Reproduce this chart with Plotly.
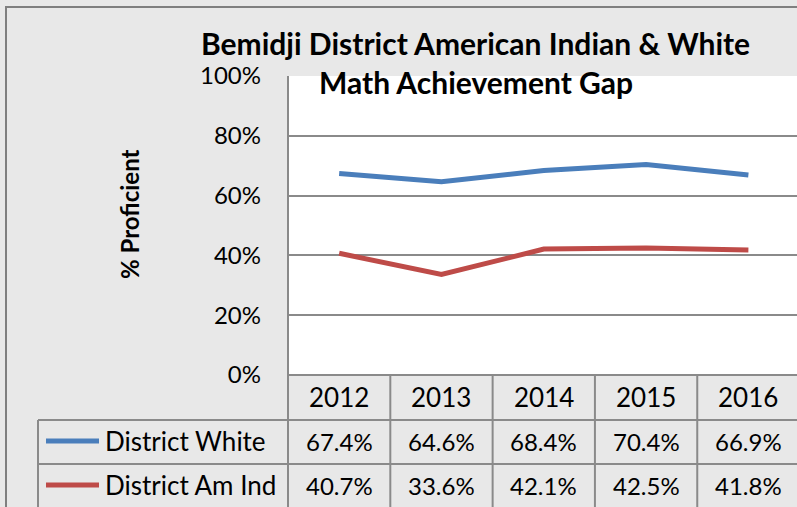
import plotly.graph_objects as go

years = ["2012", "2013", "2014", "2015", "2016"]
white = [67.4, 64.6, 68.4, 70.4, 66.9]
amind = [40.7, 33.6, 42.1, 42.5, 41.8]
series_names = ["District White", "District Am Ind"]
series_colors = ["#4A7EBB", "#BE4B48"]
title_lines = ["Bemidji District American Indian & White", "Math Achievement Gap"]
y_title = "% Proficient"
y_ticks = [0, 20, 40, 60, 80, 100]

W, H = 797, 507
FONT = "Lato"
GRID = "#8a8a8a"

def px(x):
    return x / W

def py(y):
    return 1 - y / H

fig = go.Figure()
for name, vals, col in zip(series_names, [white, amind], series_colors):
    fig.add_trace(go.Scatter(x=list(range(len(years))), y=vals, mode="lines", name=name,
                             line=dict(color=col, width=5), showlegend=False))

shapes = []
shapes.append(dict(type="rect", xref="paper", yref="paper", x0=px(6), x1=px(805), y0=py(515), y1=py(7),
                   line=dict(color="#7f7f7f", width=2), layer="below"))
for i in range(len(years) + 1):
    shapes.append(dict(type="line", xref="x", yref="paper", x0=i - 0.5, x1=i - 0.5, y0=0, y1=py(375),
                       line=dict(color=GRID, width=2)))
shapes.append(dict(type="line", xref="paper", yref="paper", x0=px(288), x1=px(288), y0=0, y1=py(76),
                   line=dict(color=GRID, width=2)))
shapes.append(dict(type="line", xref="paper", yref="paper", x0=px(38), x1=px(38), y0=0, y1=py(420),
                   line=dict(color=GRID, width=2)))
for yy in [420, 464]:
    shapes.append(dict(type="line", xref="paper", yref="paper", x0=px(38), x1=1, y0=py(yy), y1=py(yy),
                       line=dict(color=GRID, width=2)))
shapes.append(dict(type="line", xref="paper", yref="paper", x0=px(288), x1=1, y0=py(375), y1=py(375),
                   line=dict(color=GRID, width=2)))

annotations = []
row_y = [441, 485]
for i, y in enumerate(years):
    annotations.append(dict(x=i, y=py(397), xref="x", yref="paper", text=y, showarrow=False,
                            font=dict(size=26, color="black", family=FONT), xanchor="center", yanchor="middle"))
for r, (vals, name, col) in enumerate(zip([white, amind], series_names, series_colors)):
    for i, v in enumerate(vals):
        annotations.append(dict(x=i, y=py(row_y[r]), xref="x", yref="paper", text=f"{v:.1f}%", showarrow=False,
                                font=dict(size=24, color="black", family=FONT), xanchor="center", yanchor="middle"))
    annotations.append(dict(x=px(103), y=py(row_y[r]), xref="paper", yref="paper", text=name, showarrow=False,
                            font=dict(size=26, color="black", family=FONT), xanchor="left", yanchor="middle"))
    shapes.append(dict(type="line", xref="paper", yref="paper", x0=px(46), x1=px(99), y0=py(row_y[r]), y1=py(row_y[r]),
                       line=dict(color=col, width=5)))

annotations.append(dict(x=px(475), y=py(43), xref="paper", yref="paper", text="<b>" + title_lines[0] + "</b>",
                        showarrow=False, font=dict(size=30, color="black", family=FONT), xanchor="center", yanchor="middle"))
annotations.append(dict(x=px(476), y=py(82), xref="paper", yref="paper", text="<b>" + title_lines[1] + "</b>",
                        showarrow=False, font=dict(size=30, color="black", family=FONT), xanchor="center", yanchor="middle"))
annotations.append(dict(x=px(130), y=py(214), xref="paper", yref="paper", text="<b>" + y_title + "</b>",
                        showarrow=False, textangle=-90, font=dict(size=24, color="black", family=FONT),
                        xanchor="center", yanchor="middle"))

fig.update_layout(
    width=W, height=H, margin=dict(l=0, r=0, t=0, b=0, autoexpand=False),
    paper_bgcolor="#e8e8e8", plot_bgcolor="white",
    font=dict(family=FONT, color="black"),
    xaxis=dict(domain=[px(288), 1], range=[-0.5, 4.475], showticklabels=False, showgrid=False,
               zeroline=False, fixedrange=True, automargin=False),
    yaxis=dict(domain=[py(375), py(76)], range=[0, 100], tickmode="array", tickvals=y_ticks,
               ticktext=[f"{t}%" for t in y_ticks],
               showgrid=True, gridcolor=GRID, gridwidth=2, zeroline=False, ticks="", ticklabelstandoff=26,
               tickfont=dict(size=24, color="black", family=FONT), fixedrange=True, automargin=False),
    shapes=shapes, annotations=annotations, showlegend=False,
)

fig.write_html("out.html")
